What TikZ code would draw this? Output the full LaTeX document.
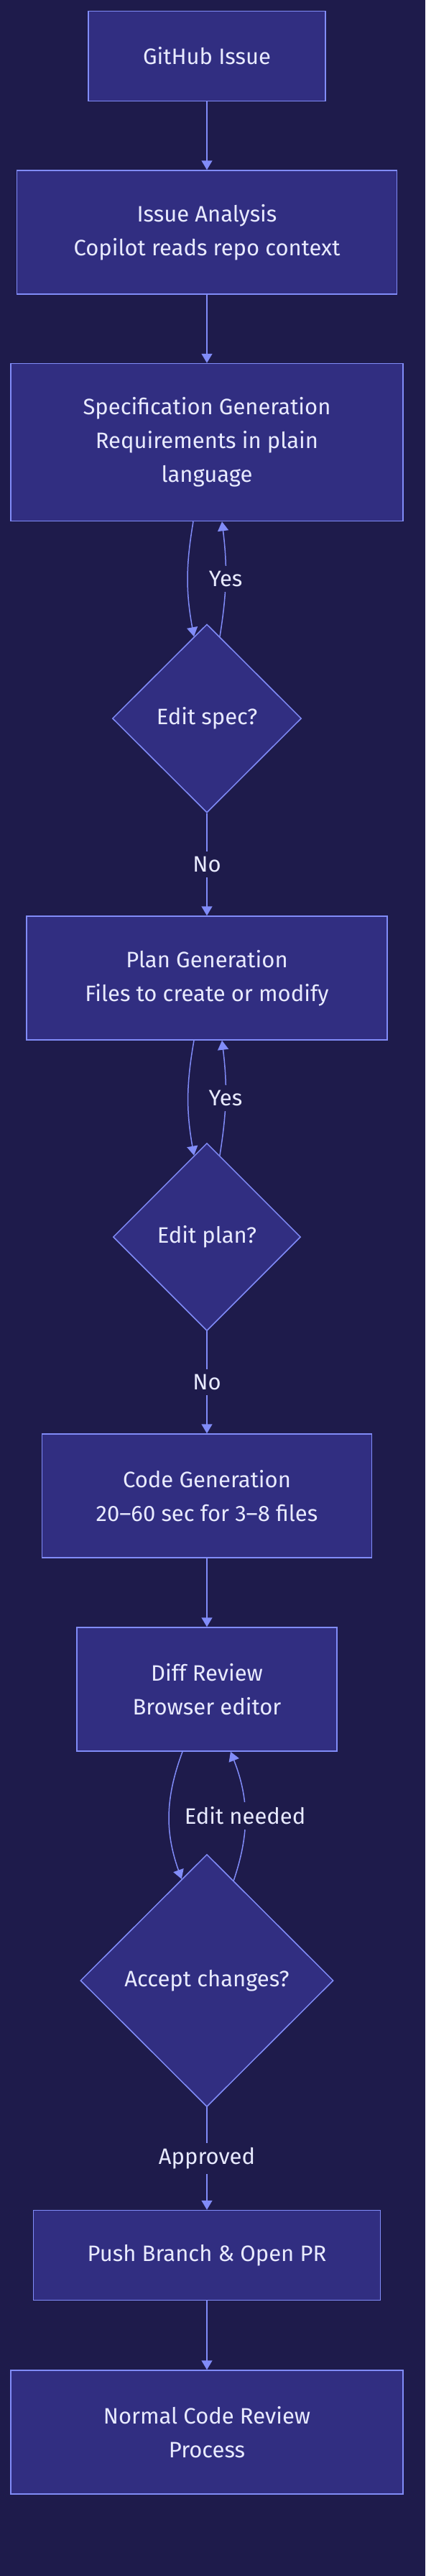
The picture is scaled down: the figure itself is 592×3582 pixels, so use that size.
\documentclass[tikz,border=0pt]{standalone}
\usepackage{fontspec}
\setmainfont{Fira Sans}
\usetikzlibrary{shapes.geometric,arrows.meta}

\definecolor{bgdark}{HTML}{1E1B4B}
\definecolor{boxfill}{HTML}{312E81}
\definecolor{edge}{HTML}{818CF8}
\definecolor{ink}{HTML}{E8EAFF}

\begin{document}
\begin{tikzpicture}[x=1pt,y=-1pt,
    font=\fontsize{31}{47}\selectfont,
    stage/.style={rectangle,draw=edge,fill=boxfill,line width=1.5pt,
      text=ink,align=center,inner sep=0pt},
    ask/.style={diamond,draw=edge,fill=boxfill,line width=1.5pt,
      text=ink,align=center,inner sep=0pt,aspect=1},
    flow/.style={draw=edge,line width=1.5pt,
      -{Triangle[length=13pt,width=15pt]}},
    lbl/.style={fill=bgdark,text=ink,inner xsep=4pt,inner ysep=7pt}]

    \useasboundingbox (0,0) rectangle (592,3582);
    \fill [bgdark] (0,0) rectangle (592,3582);

    \coordinate (c0) at (288, 78);
    \coordinate (c1) at (288, 323);
    \coordinate (c2) at (288, 615);
    \coordinate (c3) at (288, 999);
    \coordinate (c4) at (288, 1360);
    \coordinate (c5) at (288, 1720);
    \coordinate (c6) at (288, 2080);
    \coordinate (c7) at (288, 2349);
    \coordinate (c8) at (288, 2754);
    \coordinate (c9) at (288, 3136);
    \coordinate (c10) at (288, 3382);

    \node [stage,minimum width=330pt,minimum height=125pt]
    (issue) at (c0) {GitHub Issue};

    \node [stage,minimum width=529pt,minimum height=172pt]
    (analysis) at (c1) {Issue Analysis\\Copilot reads repo context};

    \node [stage,minimum width=546pt,minimum height=219pt]
    (spec) at (c2) {Specification Generation\\Requirements in plain\\language};

    \node [ask,minimum width=263pt,minimum height=262pt]
    (editspec) at (c3) {Edit spec?};

    \node [stage,minimum width=502pt,minimum height=172pt]
    (plan) at (c4) {Plan Generation\\Files to create or modify};

    \node [ask,minimum width=261pt,minimum height=261pt]
    (editplan) at (c5) {Edit plan?};

    \node [stage,minimum width=459pt,minimum height=172pt]
    (code) at (c6) {Code Generation\\20--60 sec for 3--8 files};

    \node [stage,minimum width=362pt,minimum height=172pt]
    (diff) at (c7) {Diff Review\\Browser editor};

    \node [ask,minimum width=352pt,minimum height=351pt]
    (accept) at (c8) {Accept changes?};

    \node [stage,minimum width=483pt,minimum height=125pt]
    (push) at (c9) {Push Branch \& Open PR};

    \node [stage,minimum width=546pt,minimum height=172pt]
    (normal) at (c10) {Normal Code Review\\Process};

    \draw [flow] (issue) -- (analysis);
    \draw [flow] (analysis) -- (spec);

    \draw [flow] ([xshift=-19pt]spec.south) to [bend right=10] (editspec.99.6);
    \draw [flow] (editspec.81.5) to [bend right=8] node [lbl] {Yes}
    ([xshift=21pt]spec.south);
    \draw [flow] (editspec) -- node [lbl] {No} (plan);

    \draw [flow] ([xshift=-18pt]plan.south) to [bend right=10] (editplan.99.6);
    \draw [flow] (editplan.81.5) to [bend right=8] node [lbl] {Yes}
    ([xshift=21pt]plan.south);
    \draw [flow] (editplan) -- node [lbl] {No} (code);

    \draw [flow] (code) -- (diff);

    \draw [flow] ([xshift=-34pt]diff.south) to [bend right=20] (accept.104.3);
    \draw [flow] (accept.75.7) to [bend right=20] node [lbl] {Edit needed}
    ([xshift=33pt]diff.south);
    \draw [flow] (accept) -- node [lbl] {Approved} (push);

    \draw [flow] (push) -- (normal);
  \end{tikzpicture}
\end{document}
